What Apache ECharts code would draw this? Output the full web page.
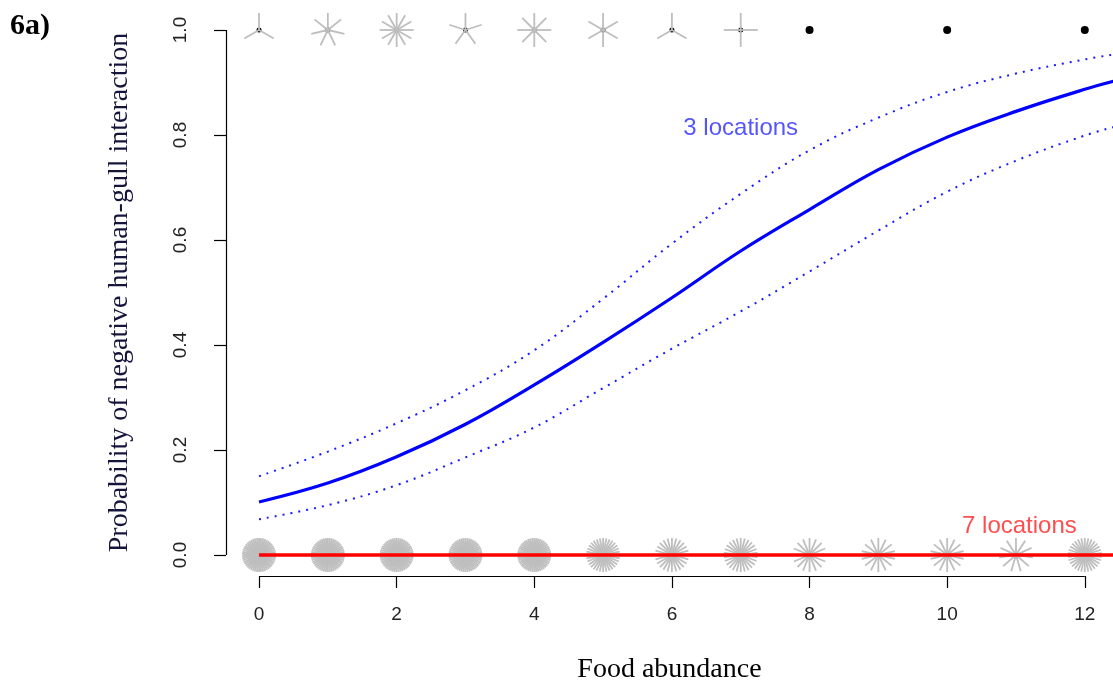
<!DOCTYPE html>
<html>
<head>
<meta charset="utf-8">
<title>Probability of negative human-gull interaction</title>
<script src="https://cdn.jsdelivr.net/npm/echarts@6/dist/echarts.min.js"></script>
<style>
  html, body { margin: 0; padding: 0; background: #ffffff; }
  #chart { width: 1113px; height: 686px; }
</style>
</head>
<body>
<div id="chart"></div>
<script>
// Food abundance values where observations were recorded
const foodLevels = [0, 1, 2, 3, 4, 5, 6, 7, 8, 9, 10, 11, 12];
// Number of observations at each food level (sunflower petals)
const countsNegative = [3, 7, 12, 5, 8, 6, 3, 4, 1, 0, 1, 0, 1];      // outcome = 1
const countsNone = [50, 50, 50, 50, 50, 32, 24, 26, 16, 14, 14, 11, 30]; // outcome = 0

// Fitted logistic curve (3 locations) with its confidence band
const curveX = [0, 1, 2, 3, 4, 5, 6, 7, 8, 9, 10, 11, 12, 12.5];
const fitProb = [0.101, 0.137, 0.187, 0.249, 0.324, 0.405, 0.490, 0.579, 0.658, 0.734, 0.796, 0.845, 0.887, 0.905];
const upperProb = [0.150, 0.197, 0.251, 0.314, 0.390, 0.488, 0.593, 0.688, 0.771, 0.833, 0.882, 0.917, 0.944, 0.955];
const lowerProb = [0.068, 0.095, 0.133, 0.186, 0.243, 0.318, 0.393, 0.464, 0.540, 0.618, 0.692, 0.751, 0.799, 0.818];

// Flat fit for the other 7 locations
const flatX = [0, 12.5];
const flatProb = [0, 0];

// Axis ticks
const xTicks = [0, 2, 4, 6, 8, 10, 12];
const yTicks = [0, 0.2, 0.4, 0.6, 0.8, 1.0];

// Text annotations placed in data space
const notes = [
  { text: '3 locations', x: 7, y: 0.813, color: '#2a2aff' },
  { text: '7 locations', x: 11.05, y: 0.055, color: '#ff2020' }
];

const X_MIN = -0.48, X_MAX = 12.41, Y_MIN = -0.04, Y_MAX = 1.04;

const zip = (xs, ys) => xs.map((x, i) => [x, ys[i]]);

const sunflowerData = [];
foodLevels.forEach((x, i) => {
  if (countsNegative[i] > 0) sunflowerData.push([x, 1, countsNegative[i]]);
  if (countsNone[i] > 0) sunflowerData.push([x, 0, countsNone[i]]);
});

const PETAL = 17;
function renderSunflower(params, api) {
  const c = api.coord([api.value(0), api.value(1)]);
  const n = api.value(2);
  const children = [];
  if (n === 1) {
    children.push({ type: 'circle', shape: { cx: c[0], cy: c[1], r: 4 }, style: { fill: '#000' } });
  } else {
    children.push({ type: 'circle', shape: { cx: c[0], cy: c[1], r: 2.5 }, style: { fill: '#000' } });
    for (let k = 1; k <= n; k++) {
      const a = 2 * Math.PI * k / n;
      children.push({
        type: 'line',
        shape: { x1: c[0], y1: c[1], x2: c[0] + PETAL * Math.sin(a), y2: c[1] - PETAL * Math.cos(a) },
        style: { stroke: '#bebebe', lineWidth: 1.8 }
      });
    }
  }
  return { type: 'group', children };
}

// Axis lines span only the tick range, as in base graphics
function renderAxes(params, api) {
  const xa = api.coord([xTicks[0], Y_MIN]);
  const xb = api.coord([xTicks[xTicks.length - 1], Y_MIN]);
  const ya = api.coord([X_MIN, yTicks[0]]);
  const yb = api.coord([X_MIN, yTicks[yTicks.length - 1]]);
  return {
    type: 'group',
    children: [
      { type: 'line', shape: { x1: xa[0], y1: xa[1] + 0.5, x2: xb[0], y2: xb[1] + 0.5 }, style: { stroke: '#000', lineWidth: 1.2 } },
      { type: 'line', shape: { x1: ya[0] + 0.5, y1: ya[1], x2: yb[0] + 0.5, y2: yb[1] }, style: { stroke: '#000', lineWidth: 1.2 } }
    ]
  };
}

const chart = echarts.init(document.getElementById('chart'), null, { renderer: 'canvas' });

chart.setOption({
  backgroundColor: '#ffffff',
  animation: false,
  grid: { left: 226, right: 0, top: 9, bottom: 110, containLabel: false, outerBoundsMode: 'none' },
  xAxis: {
    type: 'value',
    min: X_MIN,
    max: X_MAX,
    name: 'Food abundance',
    nameLocation: 'middle',
    nameGap: 80,
    nameTextStyle: { fontFamily: 'Liberation Serif', fontSize: 28, color: '#000' },
    axisLine: { show: false, onZero: false },
    splitLine: { show: false },
    axisTick: { show: true, inside: false, length: 12, customValues: xTicks, lineStyle: { color: '#000', width: 1.2 } },
    axisLabel: {
      customValues: xTicks,
      margin: 29,
      fontFamily: 'Liberation Sans',
      fontSize: 19,
      color: '#222'
    }
  },
  yAxis: {
    type: 'value',
    min: Y_MIN,
    max: Y_MAX,
    name: 'Probability of negative human-gull interaction',
    nameLocation: 'middle',
    nameGap: 92,
    nameRotate: 90,
    nameTextStyle: { fontFamily: 'Liberation Serif', fontSize: 28, color: '#15153c' },
    axisLine: { show: false, onZero: false },
    splitLine: { show: false },
    axisTick: { show: true, inside: false, length: 12, customValues: yTicks, lineStyle: { color: '#000', width: 1.2 } },
    axisLabel: {
      customValues: yTicks,
      rotate: 90,
      margin: 36,
      fontFamily: 'Liberation Sans',
      fontSize: 19,
      color: '#222',
      formatter: v => v.toFixed(1)
    }
  },
  graphic: [
    {
      type: 'text',
      left: 10,
      top: 11,
      style: { text: '6a)', font: 'bold 30px "Liberation Serif"', fill: '#000' }
    }
  ],
  series: [
    {
      name: 'axes',
      type: 'custom',
      silent: true,
      renderItem: renderAxes,
      data: [[0, 0]],
      clip: false,
      z: 1
    },
    {
      name: 'observations',
      type: 'custom',
      silent: true,
      renderItem: renderSunflower,
      data: sunflowerData,
      encode: { x: 0, y: 1 },
      clip: false,
      z: 2
    },
    {
      name: 'upper',
      type: 'line',
      data: zip(curveX, upperProb),
      smooth: 0.4,
      showSymbol: false,
      lineStyle: { color: '#1a1aff', width: 2, type: [2, 6] },
      z: 3
    },
    {
      name: 'lower',
      type: 'line',
      data: zip(curveX, lowerProb),
      smooth: 0.4,
      showSymbol: false,
      lineStyle: { color: '#1a1aff', width: 2, type: [2, 6] },
      z: 3
    },
    {
      name: '3 locations',
      type: 'line',
      data: zip(curveX, fitProb),
      smooth: 0.4,
      showSymbol: false,
      lineStyle: { color: '#0000ff', width: 3.2 },
      z: 4
    },
    {
      name: '7 locations',
      type: 'line',
      data: zip(flatX, flatProb),
      showSymbol: false,
      lineStyle: { color: '#ff0000', width: 3.6 },
      z: 4
    },
    {
      name: 'notes',
      type: 'scatter',
      symbolSize: 0,
      silent: true,
      data: notes.map(n => ({
        value: [n.x, n.y],
        label: {
          show: true,
          position: 'inside',
          formatter: n.text,
          color: n.color,
          fontFamily: 'Liberation Sans',
          fontSize: 24
        }
      })),
      z: 5
    }
  ]
});
</script>
</body>
</html>
